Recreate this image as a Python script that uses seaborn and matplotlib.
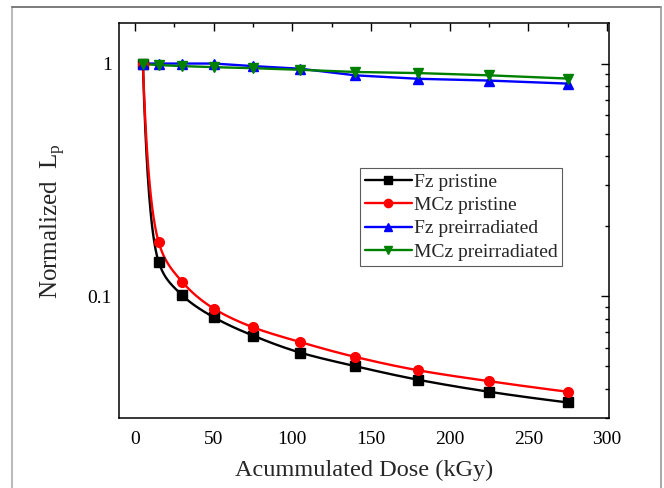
import numpy as np
import pandas as pd
import matplotlib
matplotlib.use("Agg")
import matplotlib.pyplot as plt
from matplotlib.lines import Line2D
from matplotlib.ticker import FixedLocator, FuncFormatter, LogLocator, NullFormatter
import seaborn as sns

# ---- data ----
dose = [5, 15, 30, 50, 75, 105, 140, 180, 225, 275]
fz_pristine = [1.0, 0.1406, 0.101, 0.0813, 0.0678, 0.0573, 0.0501, 0.0438, 0.0389, 0.0350]
mcz_pristine = [1.0, 0.171, 0.1153, 0.0886, 0.0736, 0.0636, 0.0549, 0.0481, 0.0432, 0.0389]
fz_preirr = [1.0, 1.0, 1.0, 1.0, 0.975, 0.95, 0.89, 0.86, 0.845, 0.82]
mcz_preirr = [0.995, 0.985, 0.975, 0.965, 0.955, 0.94, 0.92, 0.91, 0.89, 0.862]
labels = ["Fz pristine", "MCz pristine", "Fz preirradiated", "MCz preirradiated"]
xticks = [0, 50, 100, 150, 200, 250, 300]

sns.set_style("white")
plt.rcParams["font.family"] = ["Liberation Serif", "DejaVu Serif"]
plt.rcParams["mathtext.fontset"] = "custom"
plt.rcParams["mathtext.rm"] = "Liberation Serif"
plt.rcParams["mathtext.it"] = "Liberation Serif:italic"


def pchip(x, y, xn):
    x = np.asarray(x, float); y = np.asarray(y, float)
    h = np.diff(x); d = np.diff(y) / h
    n = len(x); m = np.zeros(n)
    for k in range(1, n - 1):
        if d[k - 1] * d[k] <= 0:
            m[k] = 0.0
        else:
            w1 = 2 * h[k] + h[k - 1]; w2 = h[k] + 2 * h[k - 1]
            m[k] = (w1 + w2) / (w1 / d[k - 1] + w2 / d[k])
    m[0] = ((2 * h[0] + h[1]) * d[0] - h[0] * d[1]) / (h[0] + h[1])
    if np.sign(m[0]) != np.sign(d[0]):
        m[0] = 0
    m[-1] = ((2 * h[-1] + h[-2]) * d[-1] - h[-1] * d[-2]) / (h[-1] + h[-2])
    if np.sign(m[-1]) != np.sign(d[-1]):
        m[-1] = 0
    idx = np.clip(np.searchsorted(x, xn) - 1, 0, n - 2)
    t = (xn - x[idx]) / h[idx]
    h00 = 2 * t**3 - 3 * t**2 + 1; h10 = t**3 - 2 * t**2 + t
    h01 = -2 * t**3 + 3 * t**2; h11 = t**3 - t**2
    return h00 * y[idx] + h10 * h[idx] * m[idx] + h01 * y[idx + 1] + h11 * h[idx] * m[idx + 1]


def smooth(xs, ys):
    lx = np.log10(xs); ly = np.log10(ys)
    lxn = np.linspace(lx[0], lx[-1], 400)
    return 10**lxn, 10**pchip(lx, ly, lxn)


fig = plt.figure(figsize=(6.64, 4.88), dpi=100)
ax = fig.add_axes([0.1792, 0.1434, 0.738, 0.809])

colors = ["black", "#ff0000", "#0000ff", "#008000"]
markers = ["s", "o", "^", "v"]
msizes = [6.5, 7, 7.5, 7.5]
series = [fz_pristine, mcz_pristine, fz_preirr, mcz_preirr]

for i, (ys, c, mk, ms) in enumerate(zip(series, colors, markers, msizes)):
    if i < 2:
        sx, sy = smooth(dose, ys)
        sns.lineplot(x=sx, y=sy, ax=ax, color=c, lw=1.7, sort=False, zorder=2 + i)
    else:
        sns.lineplot(x=dose, y=ys, ax=ax, color=c, lw=1.7, sort=False, zorder=2 + i)
    ax.plot(dose, ys, linestyle="none", marker=mk, markersize=ms, color=c,
            markeredgecolor=c, zorder=6 + i)

ax.set_yscale("log")
ax.set_xlim(-10.2, 301.3)
ax.set_ylim(0.03, 1.49)

ax.xaxis.set_major_locator(FixedLocator(xticks))
ax.xaxis.set_minor_locator(FixedLocator([25, 75, 125, 175, 225, 275]))
ax.yaxis.set_major_locator(FixedLocator([0.1, 1]))
ax.yaxis.set_major_formatter(FuncFormatter(lambda v, p: "1" if v >= 0.99 else "0.1"))
ax.yaxis.set_minor_locator(LogLocator(base=10, subs=np.arange(2, 10)))
ax.yaxis.set_minor_formatter(NullFormatter())

ax.tick_params(which="both", direction="in", top=True, right=True,
               width=1.0, colors="black", labelsize=14)
ax.tick_params(which="major", length=6)
ax.tick_params(which="minor", length=3)
ax.tick_params(axis="x", pad=9)
ax.tick_params(axis="y", pad=5)

for s in ax.spines.values():
    s.set_visible(True)
    s.set_color("black")
    s.set_linewidth(1.1)

ax.set_xlabel("Acummulated Dose (kGy)", fontsize=17.5, labelpad=9)
ax.set_ylabel(r"Normalized  L$_\mathregular{p}$", fontsize=18, labelpad=14)

handles = [Line2D([0], [0], color=c, marker=mk, markersize=ms * 0.85, lw=1.7)
           for c, mk, ms in zip(colors, markers, msizes)]
leg = ax.legend(handles, labels, loc="upper left", bbox_to_anchor=(0.492, 0.633),
                borderaxespad=0, fontsize=14, handlelength=2.4, handletextpad=0.1,
                labelspacing=0.3, frameon=True, fancybox=False, borderpad=0.25)
leg.get_frame().set_edgecolor("#333333")
leg.get_frame().set_linewidth(0.8)

# figure frame
fig.add_artist(Line2D([12 / 664, 12 / 664], [0, 1 - 7 / 488], transform=fig.transFigure,
                      color="#bbbbbb", lw=1.5))
fig.add_artist(Line2D([12 / 664, 661 / 664], [1 - 7 / 488, 1 - 7 / 488], transform=fig.transFigure,
                      color="#666666", lw=1.2))
fig.add_artist(Line2D([661 / 664, 661 / 664], [0, 1 - 7 / 488], transform=fig.transFigure,
                      color="#999999", lw=1.2))

fig.savefig("out.png", dpi=100)
